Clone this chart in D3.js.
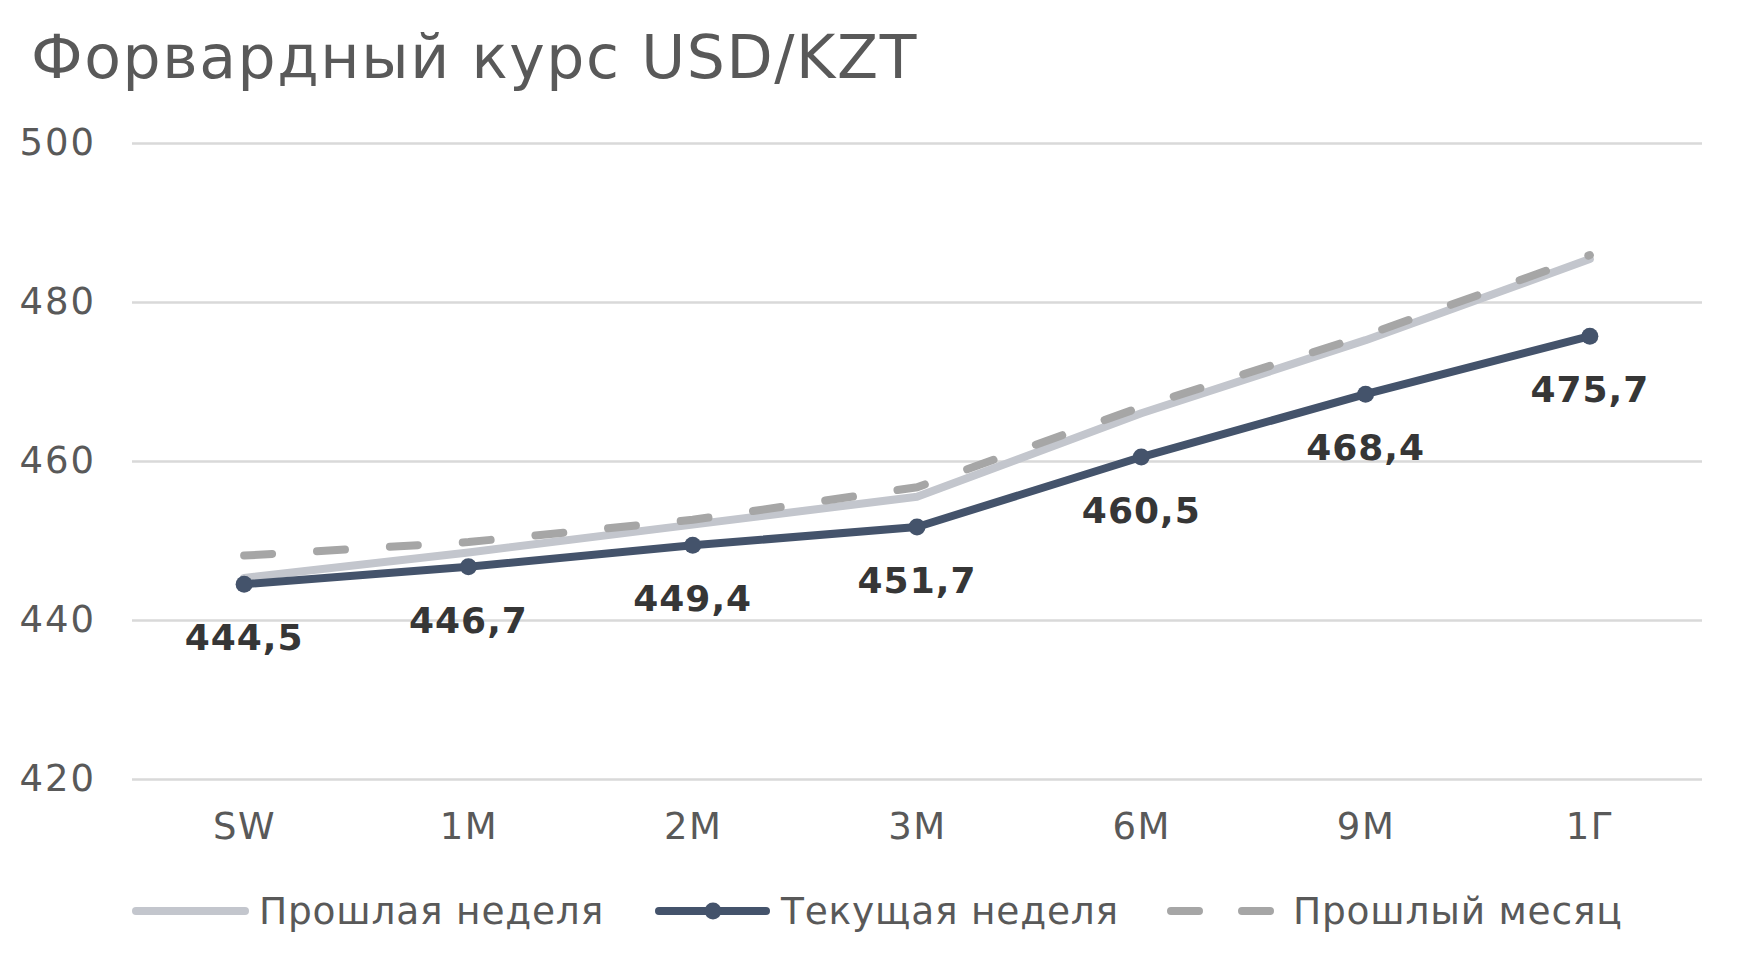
<!DOCTYPE html>
<html><head><meta charset="utf-8">
<script src="https://cdn.jsdelivr.net/npm/d3@7"></script>
<style>body{margin:0;background:#fff}svg{display:block}</style>
</head><body>
<svg id="c" width="1738" height="964"></svg>
<script>
const categories = ["SW","1M","2M","3M","6M","9M","1Г"];
const currentWeek = [444.5, 446.7, 449.4, 451.7, 460.5, 468.4, 475.7];
const lastWeek = [445.3, 448.5, 452.0, 455.5, 466.0, 475.2, 485.4];
const lastMonth = [448.1, 449.8, 452.6, 456.7, 466.8, 475.8, 485.9];
const yTicks = [420, 440, 460, 480, 500];
const seriesNames = ["Прошлая неделя", "Текущая неделя", "Прошлый месяц"];
const title = "Форвардный курс USD/KZT";

const FONT = "DejaVu Sans";
const svg = d3.select("#c");
const x = d3.scalePoint().domain(categories).range([132, 1702]).padding(0.5);
const y = d3.scaleLinear().domain([420, 500]).range([779, 143]);

svg.append("text").attr("x", 31).attr("y", 78).attr("font-family", FONT)
  .attr("font-size", 60).attr("letter-spacing", 1.6).attr("fill", "#595959").text(title);

// grid
const yAxis = d3.axisLeft(y).tickValues(yTicks).tickSize(-(1702-132)).tickPadding(36).tickFormat(d3.format("d"));
const gy = svg.append("g").attr("transform", "translate(132,0)").call(yAxis);
gy.select(".domain").remove();
gy.selectAll("line").attr("stroke", "#d9d9d9").attr("stroke-width", 2.5);
gy.selectAll("text").attr("font-family", FONT).attr("font-size", 37).attr("letter-spacing", 2).attr("fill", "#595959");

const xAxis = d3.axisBottom(x).tickSize(0).tickPadding(34);
const gx = svg.append("g").attr("transform", "translate(0,779)").call(xAxis);
gx.select(".domain").remove();
gx.selectAll("text").attr("font-family", FONT).attr("font-size", 37).attr("letter-spacing", 1.5).attr("fill", "#595959");

const line = d3.line().x((d, i) => x(categories[i])).y(d => y(d));

svg.append("path").datum(lastWeek).attr("d", line).attr("fill", "none")
  .attr("stroke", "#c3c6cd").attr("stroke-width", 8).attr("stroke-linejoin", "round").attr("stroke-linecap", "round");
svg.append("path").datum(lastMonth).attr("d", line).attr("fill", "none")
  .attr("stroke", "#a6a6a6").attr("stroke-width", 8).attr("stroke-dasharray", "28,45").attr("stroke-linecap", "round");
svg.append("path").datum(currentWeek).attr("d", line).attr("fill", "none")
  .attr("stroke", "#44536b").attr("stroke-width", 8).attr("stroke-linejoin", "round").attr("stroke-linecap", "round");
svg.selectAll(".dot").data(currentWeek).join("circle").attr("class", "dot")
  .attr("cx", (d, i) => x(categories[i])).attr("cy", d => y(d)).attr("r", 8.5).attr("fill", "#44536b");

svg.selectAll(".lbl").data(currentWeek).join("text").attr("class", "lbl")
  .attr("x", (d, i) => x(categories[i])).attr("y", d => y(d) + 66)
  .attr("text-anchor", "middle").attr("font-family", FONT).attr("font-weight", "bold")
  .attr("font-size", 36).attr("letter-spacing", 1).attr("fill", "#363636")
  .text(d => d3.format(".1f")(d).replace(".", ","));

// legend
const ly = 911;
const LF = 37.5;
const lg = svg.append("g");
lg.append("line").attr("x1", 136).attr("x2", 245).attr("y1", ly).attr("y2", ly)
  .attr("stroke", "#c3c6cd").attr("stroke-width", 8).attr("stroke-linecap", "round");
lg.append("text").attr("x", 259).attr("y", ly + 13).attr("font-family", FONT).attr("font-size", LF).attr("letter-spacing", 0.8).attr("fill", "#595959").text(seriesNames[0]);
lg.append("line").attr("x1", 659).attr("x2", 766).attr("y1", ly).attr("y2", ly)
  .attr("stroke", "#44536b").attr("stroke-width", 8).attr("stroke-linecap", "round");
lg.append("circle").attr("cx", 713).attr("cy", ly).attr("r", 8.5).attr("fill", "#44536b");
lg.append("text").attr("x", 781).attr("y", ly + 13).attr("font-family", FONT).attr("font-size", LF).attr("letter-spacing", 0.8).attr("fill", "#595959").text(seriesNames[1]);
lg.append("line").attr("x1", 1171).attr("x2", 1271).attr("y1", ly).attr("y2", ly)
  .attr("stroke", "#a6a6a6").attr("stroke-width", 8).attr("stroke-linecap", "round").attr("stroke-dasharray", "28,43");
lg.append("text").attr("x", 1293).attr("y", ly + 13).attr("font-family", FONT).attr("font-size", LF).attr("letter-spacing", 0.8).attr("fill", "#595959").text(seriesNames[2]);
</script>
</body></html>
